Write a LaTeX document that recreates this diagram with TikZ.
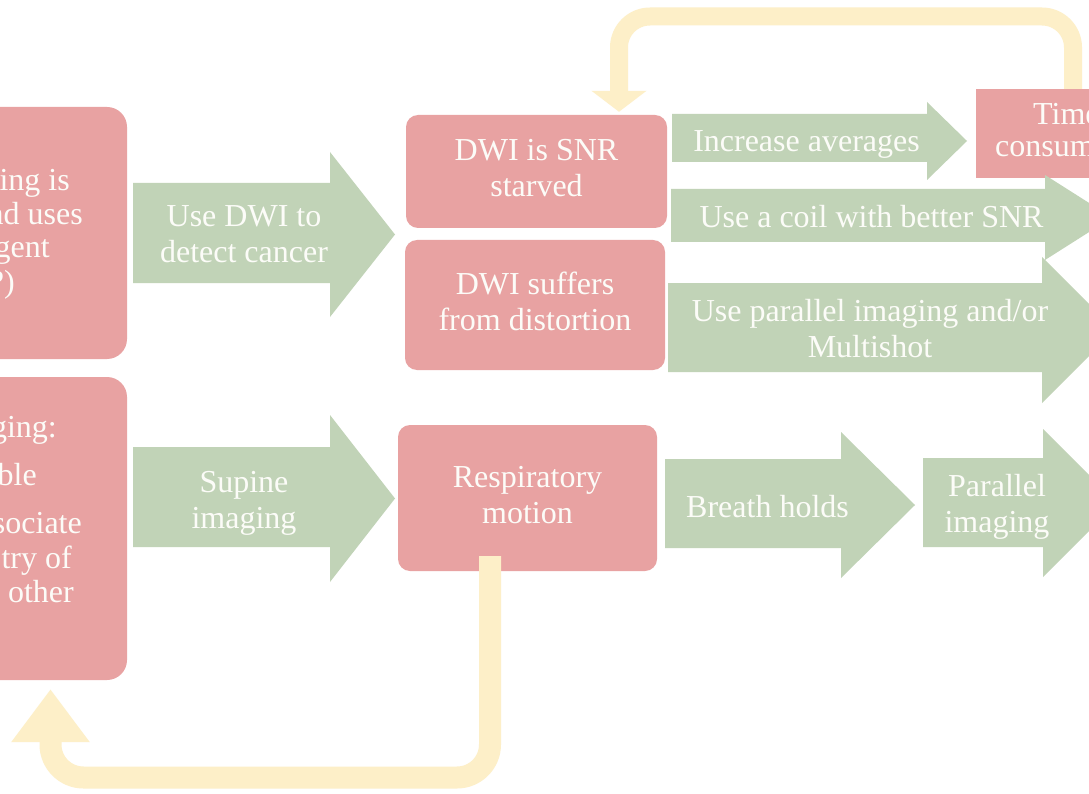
\documentclass[tikz,border=0pt]{standalone}
\usepackage{fontspec}
\setmainfont{Liberation Serif}
\usetikzlibrary{arrows.meta,calc}

\definecolor{boxpink}{HTML}{E8A2A2}
\definecolor{arrowgreen}{HTML}{C1D3B7}
\definecolor{loopyellow}{HTML}{FDEFC8}
\definecolor{labelwhite}{HTML}{FCFCF8}

% block arrow: body left x, body top y, body bottom y,
% head base x, head top y, head bottom y, tip x
\newcommand\blockarrow[7]{%
  \fill[arrowgreen] (#1,#2) -- (#4,#2) -- (#4,#5) -- (#7,{(#5+#6)/2})
    -- (#4,#6) -- (#4,#3) -- (#1,#3) -- cycle;}

\begin{document}
\begin{tikzpicture}[x=1pt,y=-1pt,
    lbl/.style={text=labelwhite, font=\fontsize{32}{36}\selectfont,
      align=center, inner sep=0pt},
    pinkbox/.style={fill=boxpink, draw=none, rounded corners=12pt,
      inner sep=0pt, lbl},
    loopline/.style={draw=loopyellow, line cap=butt, line join=round}]

  \useasboundingbox (0,0) rectangle (1089,794);
  \fill[white] (0,0) rectangle (1089,794);
  \clip (0,0) rectangle (1089,794);

  % feedback loop coordinates
  \coordinate (tr) at (1073,16.5);
  \coordinate (tl) at (619,16.5);
  \coordinate (br) at (490,777.5);
  \coordinate (bl) at (50.5,777.5);

  % problem boxes
  \node[pinkbox, rounded corners=20pt, minimum width=157pt, minimum height=252pt]
    (ltop) at (48.5,233) {};
  \node[pinkbox, rounded corners=20pt, minimum width=157pt, minimum height=303pt]
    (lbot) at (48.5,528.5) {};
  \node[pinkbox, rounded corners=0pt, minimum width=174pt, minimum height=89pt]
    (time) at (1063,133.5) {};
  \node[pinkbox, minimum width=261pt, minimum height=113pt]
    (dwisnr) at (536.5,171.5) {\strut DWI is SNR\\\strut starved};
  \node[pinkbox, minimum width=260pt, minimum height=130pt]
    (dwidist) at (535,305) {\strut DWI suffers\\\strut from distortion};
  \node[pinkbox, minimum width=259pt, minimum height=146pt]
    (resp) at (527.5,498) {\strut Respiratory\\\strut motion};

  % top feedback loop, from the time box back to the SNR box
  \draw[loopline, line width=18pt, rounded corners=31pt, shorten >=3pt,
        -{Triangle[width=54pt,length=21pt]}]
    (time.north -| tr) -- (tr) -- (tl) -- (dwisnr.north -| tl);

  % solution arrows
  \blockarrow{133}{183}{283}{330}{152}{317}{395}
  \blockarrow{133}{447}{547}{330}{415}{582}{395}
  \blockarrow{672}{114}{162}{927}{102}{180}{967}
  \blockarrow{671}{189}{242}{1045}{175}{260}{1112}
  \blockarrow{668}{283}{372}{1042}{257}{403}{1115}
  \blockarrow{665}{459}{548}{841}{432}{578}{915}
  \blockarrow{923}{458}{547}{1043}{429}{577}{1117}

  \node[lbl] (usedwi) at (244,237.8) {\strut Use DWI to\\\strut detect cancer};
  \node[lbl] (supine) at (244,502.8) {\strut Supine\\\strut imaging};
  \node[lbl] (avg) at (806.5,144.5) {\strut Increase averages};
  \node[lbl] (coil) at (871.5,220) {\strut Use a coil with better SNR};
  \node[lbl] (pimult) at (870,331.8) {\strut Use parallel imaging and/or\\\strut Multishot};
  \node[lbl] (breath) at (767.5,510) {\strut Breath holds};
  \node[lbl] (pimg) at (997,506.8) {\strut Parallel\\\strut imaging};

  % text of the boxes cut by the left and right edges
  \node[lbl, anchor=base east] (ft1) at (70,191) {ing is};
  \node[lbl, anchor=base east] (ft2) at (83,225) {nd uses};
  \node[lbl, anchor=base east] (ft3) at (50,258) {gent};
  \node[lbl, anchor=base east] (ft4) at (15,292) {?)};
  \node[lbl, anchor=base east] (fb1) at (57,437) {ging:};
  \node[lbl, anchor=base east] (fb2) at (37,485) {ble};
  \node[lbl, anchor=base east] (fb3) at (82,533) {sociate};
  \node[lbl, anchor=base east] (fb4) at (72,568) {try of};
  \node[lbl, anchor=base east] (fb5) at (74,602) {other};
  \node[lbl, anchor=base west] (fr1) at (1033,125) {Time};
  \node[lbl, anchor=base west] (fr2) at (995,157) {consum};

  % bottom feedback loop, drawn over the motion box
  \draw[loopline, line width=22pt, rounded corners=33pt, shorten >=9pt,
        -{Triangle[width=75pt,length=53pt]}]
    ($(resp.south -| br)+(0,-15)$) -- (br) -- (bl) -- (lbot.south -| bl);
\end{tikzpicture}
\end{document}
